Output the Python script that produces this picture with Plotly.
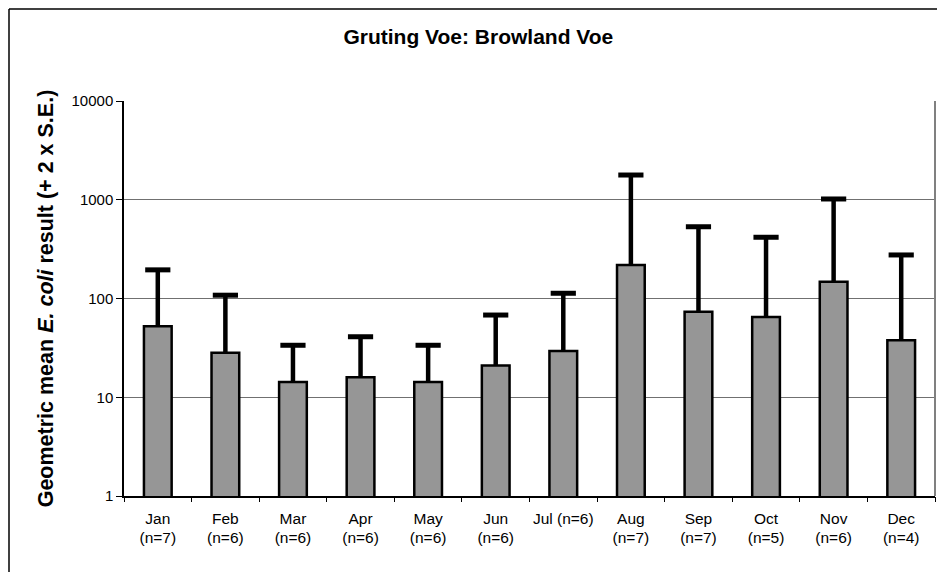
import plotly.graph_objects as go

# monthly geometric mean E. coli and mean + 2 x S.E.
months = ['Jan', 'Feb', 'Mar', 'Apr', 'May', 'Jun', 'Jul (n=6)', 'Aug', 'Sep', 'Oct', 'Nov', 'Dec']
n_labels = ['(n=7)', '(n=6)', '(n=6)', '(n=6)', '(n=6)', '(n=6)', '', '(n=7)', '(n=7)', '(n=5)', '(n=6)', '(n=4)']
geo_mean = [52.5, 28.3, 14.3, 15.9, 14.3, 21.0, 29.4, 218, 73.5, 65.0, 148, 37.7]
upper = [195, 108, 33.6, 41.0, 33.6, 68.0, 113, 1780, 533, 417, 1018, 276]
y_ticks = [1, 10, 100, 1000, 10000]

pos = list(range(len(months)))
err_up = [u - m for u, m in zip(upper, geo_mean)]
bounds = [p - 0.5 for p in pos] + [pos[-1] + 0.5]

FONT = 'Arial, Liberation Sans, sans-serif'
# page body has an 8px margin, figure is sized to fit the window
W, H = 937, 564
L, R, T, B = 116, 10, 93, 76
pw, ph = W - L - R, H - T - B

fig = go.Figure()
fig.add_trace(go.Bar(
    x=pos, y=geo_mean, width=0.41,
    marker=dict(color='#969696', line=dict(color='black', width=2.5)),
    error_y=dict(type='data', symmetric=False, array=err_up,
                 arrayminus=[0] * len(pos), width=0, thickness=4.5, color='black'),
    showlegend=False, hoverinfo='skip'))
# caps of the error bars
fig.add_trace(go.Scatter(
    x=pos, y=upper, mode='markers',
    marker=dict(symbol='line-ew', size=18, line=dict(color='black', width=5)),
    showlegend=False, hoverinfo='skip'))
# invisible traces so the helper axes (boundary ticks, n= labels) get drawn
for ax in ['x2', 'x3']:
    fig.add_trace(go.Scatter(x=pos, y=geo_mean, xaxis=ax, mode='markers',
                             marker=dict(opacity=0), showlegend=False, hoverinfo='skip'))

fig.update_layout(
    width=W, height=H,
    margin=dict(l=L, r=R, t=T, b=B),
    paper_bgcolor='white', plot_bgcolor='white',
    font=dict(family=FONT, color='black', size=15),
    title=dict(text='<b>Gruting Voe: Browland Voe</b>', x=0.502, xanchor='center',
               y=1 - 29 / H, yanchor='middle', font=dict(size=21, family=FONT)),
    xaxis=dict(range=[-0.5, 11.5], tickvals=pos, ticktext=months, ticks='',
               showgrid=False, zeroline=False, showline=True, linecolor='black',
               linewidth=1.5, tickfont=dict(size=15.5), ticklabelstandoff=8),
    xaxis2=dict(overlaying='x', anchor='y', side='bottom', range=[-0.5, 11.5],
                tickvals=bounds, ticks='outside', ticklen=5, tickcolor='black',
                showticklabels=False, showgrid=False, zeroline=False, showline=False),
    xaxis3=dict(overlaying='x', anchor='y', side='bottom', range=[-0.5, 11.5],
                tickvals=pos, ticktext=n_labels, ticks='', showgrid=False,
                zeroline=False, showline=False, tickfont=dict(size=15.5),
                ticklabelstandoff=30),
    yaxis=dict(type='log', range=[0, 4], tickvals=y_ticks,
               ticktext=[str(v) for v in y_ticks], ticks='outside', ticklen=6,
               tickcolor='black', showline=True, linecolor='black', linewidth=1.5,
               showgrid=True, gridcolor='#707070', gridwidth=1, zeroline=False,
               tickfont=dict(size=15),
               title=dict(text='<b>Geometric mean <i>E. coli</i> result (+ 2 x S.E.)</b>',
                          font=dict(size=21.5, family=FONT), standoff=12)),
    shapes=[
        # right edge of plot area
        dict(type='line', xref='paper', yref='paper', x0=1, x1=1, y0=0, y1=1,
             line=dict(color='#808080', width=2)),
        # outer chart frame (top and left visible)
        dict(type='line', xref='paper', yref='paper', x0=-(L - 1) / pw, x1=(W - L) / pw,
             y0=(ph + T - 1) / ph, y1=(ph + T - 1) / ph, line=dict(color='black', width=1.5)),
        dict(type='line', xref='paper', yref='paper', x0=-(L - 1) / pw, x1=-(L - 1) / pw,
             y0=-0.3, y1=(ph + T - 1) / ph, line=dict(color='black', width=1.5)),
    ],
)

fig.write_html('out.html')
